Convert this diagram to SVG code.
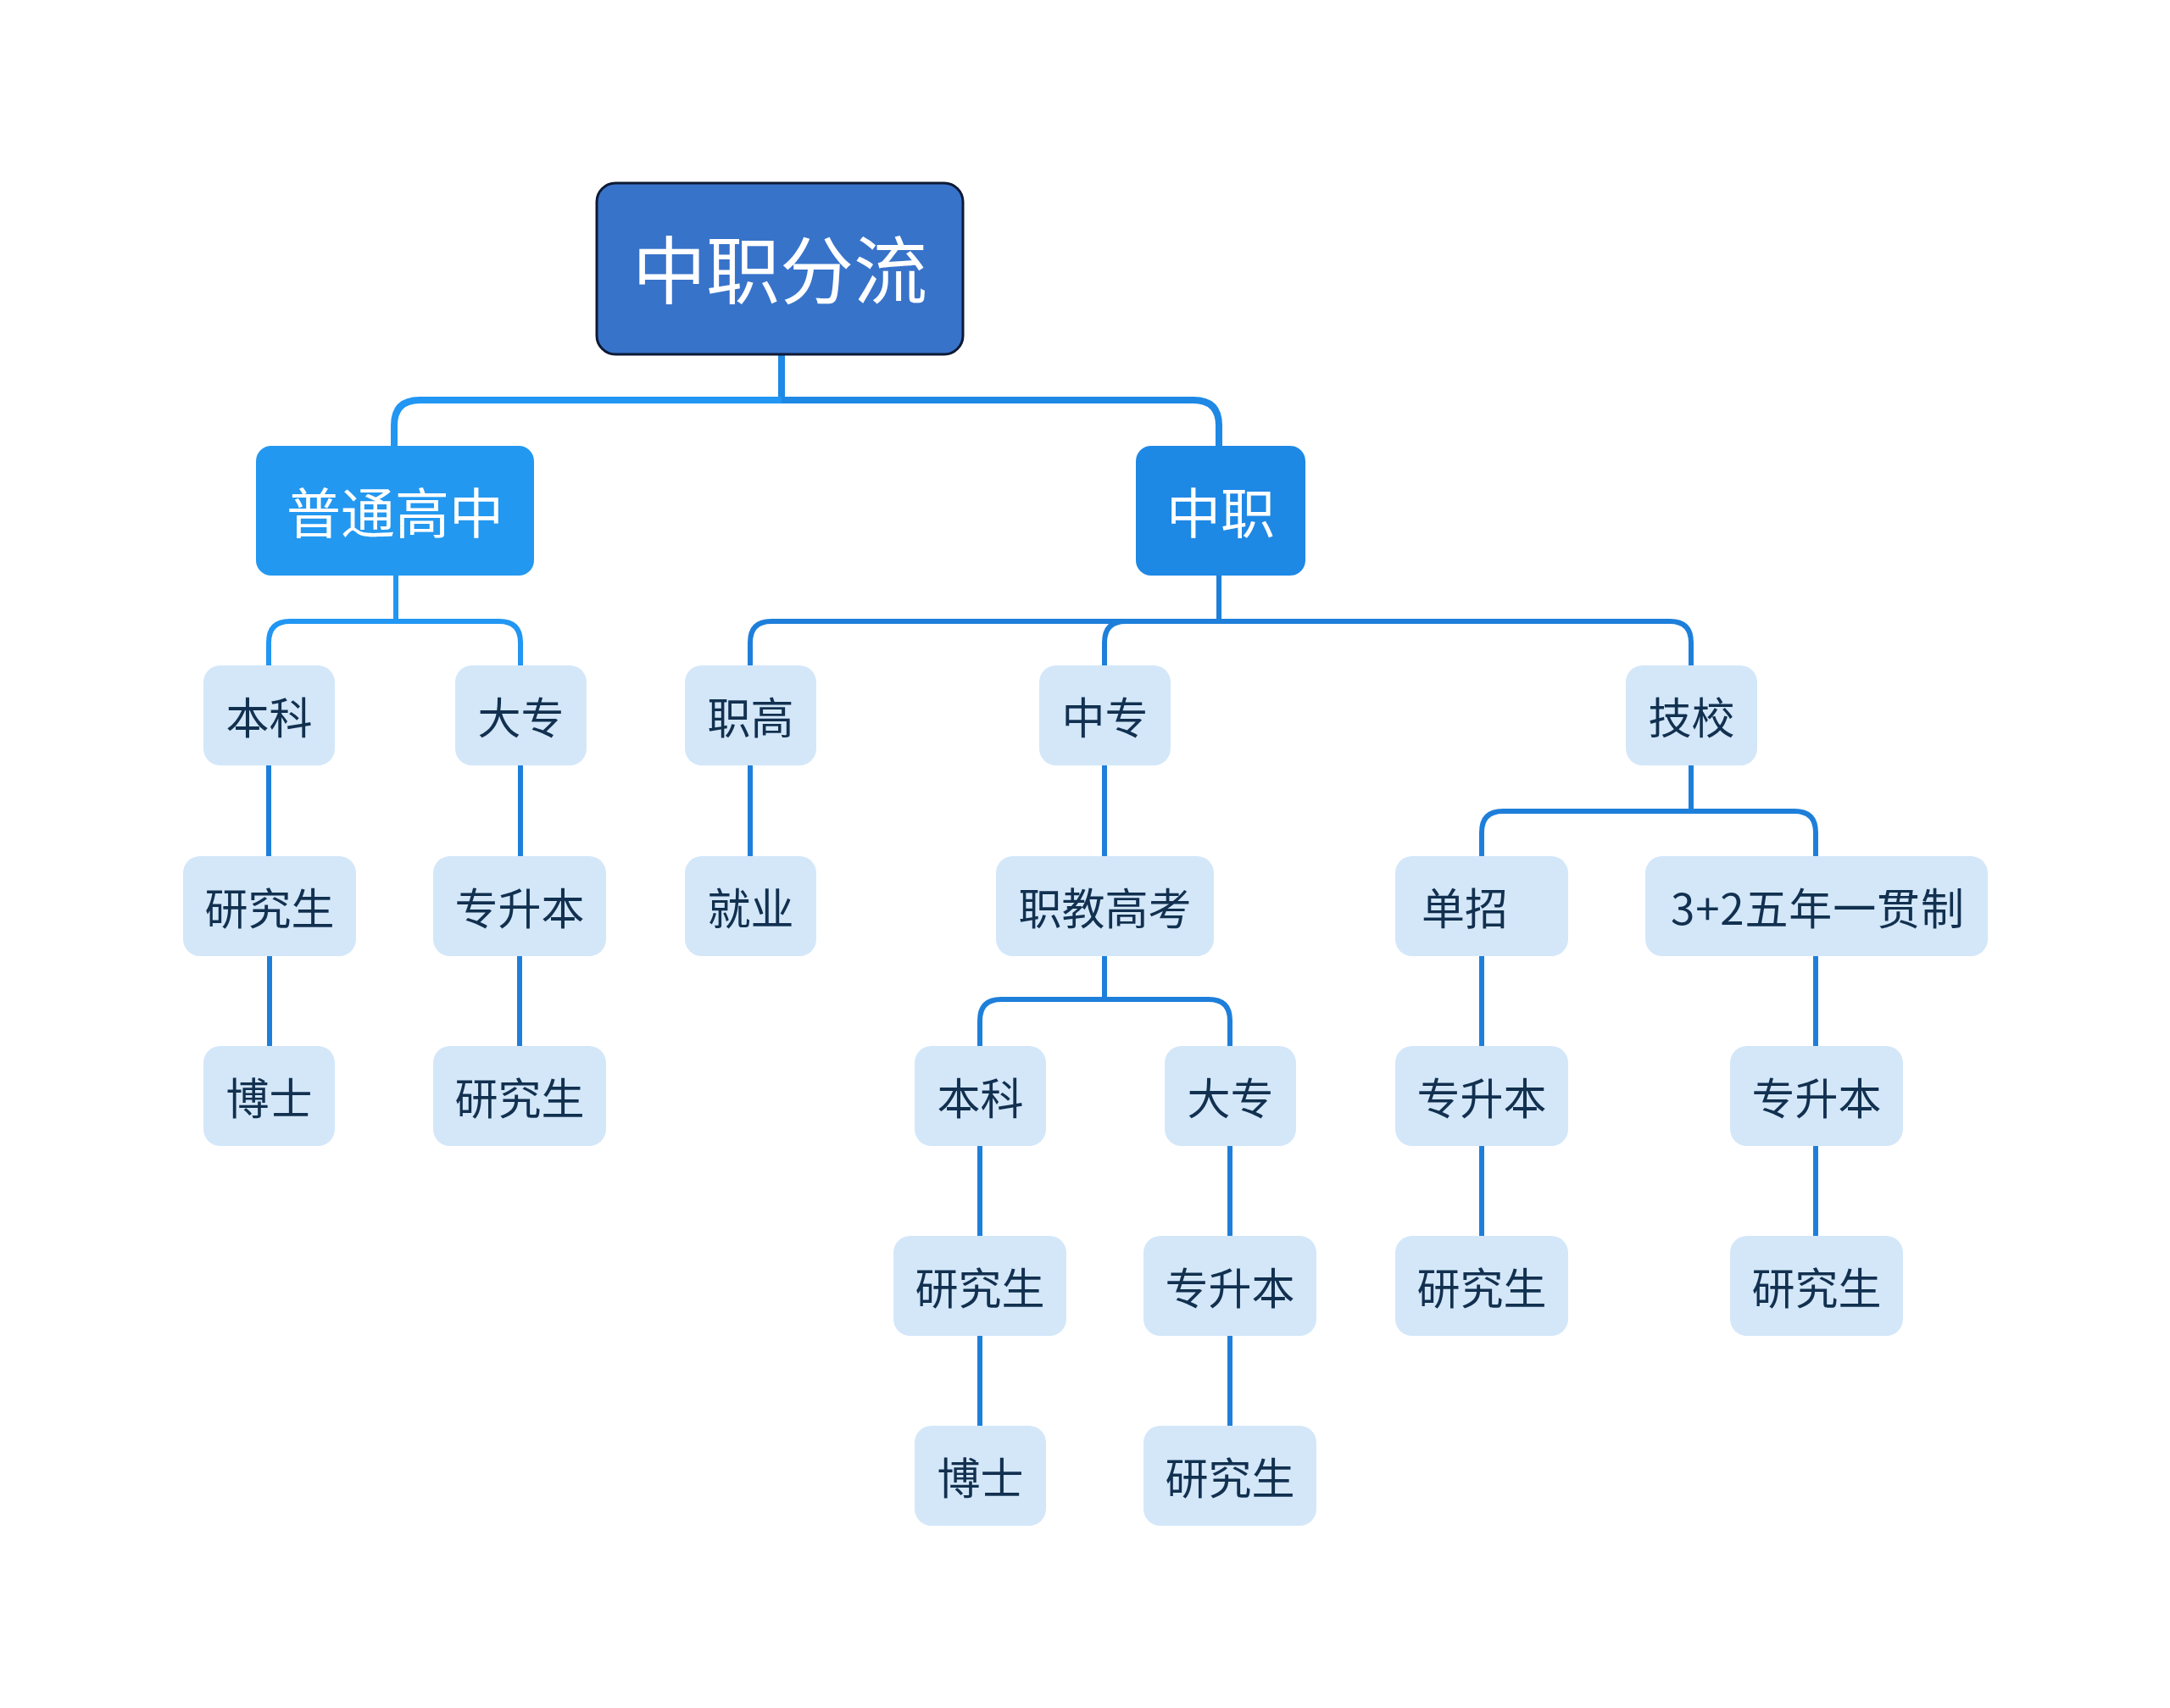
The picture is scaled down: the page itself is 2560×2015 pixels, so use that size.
<svg xmlns="http://www.w3.org/2000/svg" width="2560" height="2015" viewBox="0 0 2560 2015">
<style>
.leaf rect{fill:#D3E7F9;}
.leaf text{fill:#12304F;font-family:"Noto Sans CJK SC","Noto Sans",sans-serif;font-size:51px;text-anchor:middle;dominant-baseline:central;}
.l1 text{fill:#FFFFFF;font-family:"Noto Sans CJK SC","Noto Sans",sans-serif;font-size:64px;text-anchor:middle;dominant-baseline:central;}
.conn path{fill:none;stroke:#1E7FDA;stroke-width:6;}
</style>
<rect width="2560" height="2015" fill="#FFFFFF"/>
<g id="connectors" class="conn">
  <path d="M922,418 V472" style="stroke:#1F8AE6;stroke-width:8"/>
  <path d="M922,472 H495 Q465,472 465,502 V526" style="stroke:#2196F3;stroke-width:8"/>
  <path d="M922,472 H1408 Q1438,472 1438,502 V526" style="stroke:#1E88E5;stroke-width:8"/>
  <path d="M467,679 V733" style="stroke:#2196F3"/>
  <path d="M317,785 V758 Q317,733 342,733 H589 Q614,733 614,758 V785" style="stroke:#2196F3"/>
  <path d="M317,903 V1010"/>
  <path d="M318,1127 V1234"/>
  <path d="M614,903 V1010"/>
  <path d="M613,1127 V1234"/>
  <path d="M1438,679 V733"/>
  <path d="M885,785 V758 Q885,733 910,733 H1970 Q1995,733 1995,758 V785"/>
  <path d="M1303,785 V758 Q1303,733 1328,733"/>
  <path d="M885,903 V1010"/>
  <path d="M1303,903 V1010"/>
  <path d="M1303,1128 V1179"/>
  <path d="M1156,1234 V1204 Q1156,1179 1181,1179 H1426 Q1451,1179 1451,1204 V1234"/>
  <path d="M1156,1352 V1458"/>
  <path d="M1156,1576 V1682"/>
  <path d="M1451,1352 V1458"/>
  <path d="M1451,1576 V1682"/>
  <path d="M1995,903 V957"/>
  <path d="M1748,1010 V982 Q1748,957 1773,957 H2117 Q2142,957 2142,982 V1010"/>
  <path d="M1748,1128 V1234"/>
  <path d="M1748,1352 V1458"/>
  <path d="M2142,1128 V1234"/>
  <path d="M2142,1352 V1458"/>
</g>
<g id="root">
  <rect x="704" y="216" width="432" height="202" rx="22" fill="#3873CA" stroke="#0D1A35" stroke-width="3"/>
  <text x="920" y="314" fill="#FFFFFF" font-family="'Noto Sans CJK SC','Noto Sans',sans-serif" font-size="87" text-anchor="middle" dominant-baseline="central">中职分流</text>
</g>
<g id="n_putonggaozhong" class="l1">
  <rect x="302" y="526" width="328" height="153" rx="18" fill="#2398F0"/>
  <text x="466" y="601">普通高中</text>
</g>
<g id="n_zhongzhi" class="l1">
  <rect x="1340" y="526" width="200" height="153" rx="18" fill="#1E88E5"/>
  <text x="1440" y="601">中职</text>
</g>
<g id="n_benke1" class="leaf"><rect x="240" y="785" width="155" height="118" rx="20"/><text x="317.5" y="844">本科</text></g>
<g id="n_dazhuan1" class="leaf"><rect x="537" y="785" width="155" height="118" rx="20"/><text x="614.5" y="844">大专</text></g>
<g id="n_zhigao" class="leaf"><rect x="808" y="785" width="155" height="118" rx="20"/><text x="885.5" y="844">职高</text></g>
<g id="n_zhongzhuan" class="leaf"><rect x="1226" y="785" width="155" height="118" rx="20"/><text x="1303.5" y="844">中专</text></g>
<g id="n_jixiao" class="leaf"><rect x="1918" y="785" width="155" height="118" rx="20"/><text x="1995.5" y="844">技校</text></g>
<g id="n_yanjiusheng1" class="leaf"><rect x="216" y="1010" width="204" height="118" rx="20"/><text x="318" y="1069">研究生</text></g>
<g id="n_zhuanshengben1" class="leaf"><rect x="511" y="1010" width="204" height="118" rx="20"/><text x="613" y="1069">专升本</text></g>
<g id="n_jiuye" class="leaf"><rect x="808" y="1010" width="155" height="118" rx="20"/><text x="885.5" y="1069">就业</text></g>
<g id="n_zhijiaogaokao" class="leaf"><rect x="1175" y="1010" width="257" height="118" rx="20"/><text x="1303.5" y="1069">职教高考</text></g>
<g id="n_danzhao" class="leaf"><rect x="1646" y="1010" width="204" height="118" rx="20"/><text x="1677" y="1069" style="text-anchor:start">单招</text></g>
<g id="n_3plus2" class="leaf"><rect x="1941" y="1010" width="404" height="118" rx="20"/><text x="2144" y="1069" textLength="346" lengthAdjust="spacing">3+2五年一贯制</text></g>
<g id="n_boshi1" class="leaf"><rect x="240" y="1234" width="155" height="118" rx="20"/><text x="317.5" y="1293">博士</text></g>
<g id="n_yanjiusheng2" class="leaf"><rect x="511" y="1234" width="204" height="118" rx="20"/><text x="613" y="1293">研究生</text></g>
<g id="n_benke2" class="leaf"><rect x="1079" y="1234" width="155" height="118" rx="20"/><text x="1156.5" y="1293">本科</text></g>
<g id="n_dazhuan2" class="leaf"><rect x="1374" y="1234" width="155" height="118" rx="20"/><text x="1451.5" y="1293">大专</text></g>
<g id="n_zhuanshengben2" class="leaf"><rect x="1646" y="1234" width="204" height="118" rx="20"/><text x="1748" y="1293">专升本</text></g>
<g id="n_zhuanshengben3" class="leaf"><rect x="2041" y="1234" width="204" height="118" rx="20"/><text x="2143" y="1293">专升本</text></g>
<g id="n_yanjiusheng3" class="leaf"><rect x="1054" y="1458" width="204" height="118" rx="20"/><text x="1156" y="1517">研究生</text></g>
<g id="n_zhuanshengben4" class="leaf"><rect x="1349" y="1458" width="204" height="118" rx="20"/><text x="1451" y="1517">专升本</text></g>
<g id="n_yanjiusheng4" class="leaf"><rect x="1646" y="1458" width="204" height="118" rx="20"/><text x="1748" y="1517">研究生</text></g>
<g id="n_yanjiusheng5" class="leaf"><rect x="2041" y="1458" width="204" height="118" rx="20"/><text x="2143" y="1517">研究生</text></g>
<g id="n_boshi2" class="leaf"><rect x="1079" y="1682" width="155" height="118" rx="20"/><text x="1156.5" y="1741">博士</text></g>
<g id="n_yanjiusheng6" class="leaf"><rect x="1349" y="1682" width="204" height="118" rx="20"/><text x="1451" y="1741">研究生</text></g>
</svg>
